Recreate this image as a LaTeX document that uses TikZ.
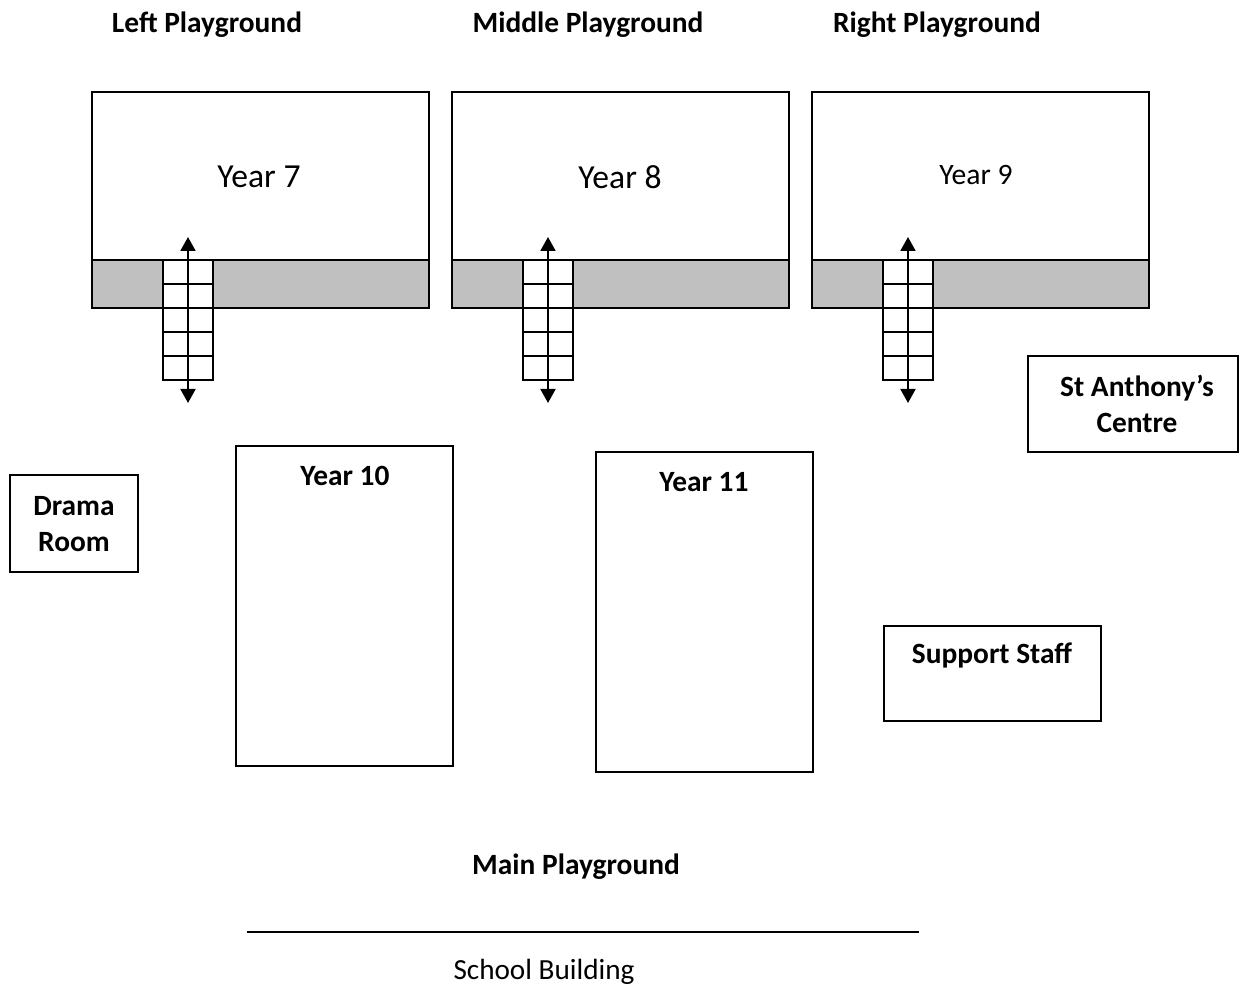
\documentclass[tikz,border=0pt]{standalone}
\usepackage{fontspec}
\setmainfont{Carlito}
\usetikzlibrary{arrows.meta}
\definecolor{bandgray}{RGB}{192,192,192}
\tikzset{
  roombox/.style={rectangle, draw=black, line width=1pt, fill=white, inner sep=0pt},
  bldlbl/.style={font=\fontsize{14.7}{18}\selectfont\bfseries, align=center, inner sep=0pt},
  yrlbl/.style={font=\fontsize{16.8}{20}\selectfont, inner sep=0pt},
  stairs/.style={draw=black, line width=1pt, fill=white},
  updown/.style={{Triangle[length=7pt,width=7.5pt]}-{Triangle[length=7pt,width=7.5pt]}, line width=1pt},
}
\begin{document}
\begin{tikzpicture}[x=0.5pt, y=-0.5pt]
\useasboundingbox (0,0) rectangle (1239,984);
% playground titles
\node[bldlbl] (lpg) at (207,25) {Left Playground};
\node[bldlbl] (mpg) at (588,25) {Middle Playground};
\node[bldlbl] (rpg) at (937,25) {Right Playground};
% year 7-9 blocks with stairs
\foreach \cx/\sx/\yr in {260.5/188/7, 620.5/548/8, 980.5/908/9} {
  \node[roombox, minimum width=168.5pt, minimum height=108pt] (y\yr) at (\cx,200) {};
  \draw[line width=1pt, fill=bandgray] (\cx-168.5,260) rectangle (\cx+168.5,308);
  \draw[stairs] (\sx-25,260) rectangle (\sx+25,380);
  \foreach \r in {284,308,332,356} \draw[line width=1pt] (\sx-25,\r) -- (\sx+25,\r);
  \coordinate (up\yr) at (\sx,237);
  \coordinate (dn\yr) at (\sx,403);
  \draw[updown] (dn\yr) -- (up\yr);
}
\node[yrlbl] (t7) at (259,177) {Year 7};
\node[yrlbl] (t8) at (620,177) {Year 8};
\node[yrlbl, font=\fontsize{14.8}{18}\selectfont] (t9) at (976,175) {Year 9};
% other buildings
\node[roombox, minimum width=108.5pt, minimum height=160pt] (y10) at (344.5,606) {};
\node[bldlbl] (t10) at (345,476) {Year 10};
\node[roombox, minimum width=108.5pt, minimum height=160pt] (y11) at (704.5,612) {};
\node[bldlbl] (t11) at (704,482) {Year 11};
\node[roombox, minimum width=64pt, minimum height=48.5pt] (drama) at (74,523.5) {};
\node[bldlbl] (tdrama) at (74,524) {Drama\\Room};
\node[roombox, minimum width=105pt, minimum height=48pt] (stant) at (1133,404) {};
\node[bldlbl] (tstant) at (1137,404) {St Anthony’s\\Centre};
\node[roombox, minimum width=108.5pt, minimum height=47.5pt] (supp) at (992.5,673.5) {};
\node[bldlbl] (tsupp) at (992,655) {Support Staff};
% main playground and school building
\node[bldlbl] (mainpg) at (576,867) {Main Playground};
\coordinate (sbl) at (247,932);
\coordinate (sbr) at (919,932);
\draw[line width=1pt] (sbl) -- (sbr);
\node[yrlbl, font=\fontsize{14.6}{18}\selectfont] (school) at (544,972) {School Building};
\end{tikzpicture}
\end{document}
